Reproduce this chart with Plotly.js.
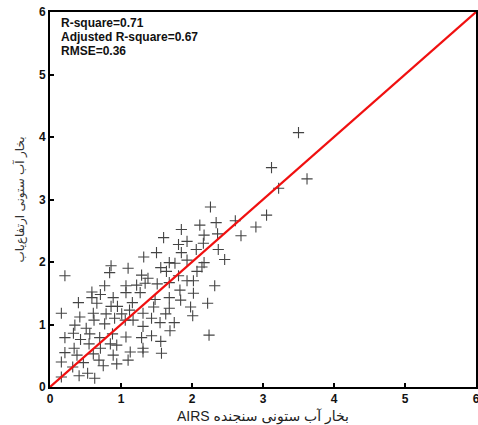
<!DOCTYPE html>
<html>
<head>
<meta charset="utf-8">
<script src="https://cdn.plot.ly/plotly-3.0.1.min.js"></script>
<style>
html,body{margin:0;padding:0;background:#fff;}
#chart{width:478px;height:425px;}
</style>
</head>
<body>
<div id="chart"></div>
<script>
// AIRS column water vapour (x) vs reference (y)
const airsX = [
0.21,0.86,0.84,1.10,0.77,1.07,0.59,0.71,1.07,0.59,0.40,0.66,0.89,0.86,0.95,0.16,0.42,0.61,0.62,0.79,
0.91,1.01,1.12,0.35,0.51,0.77,1.06,0.21,0.33,0.43,0.56,0.70,0.88,1.07,0.34,0.21,0.38,0.55,0.61,0.71,
0.85,0.89,1.13,1.31,0.16,0.32,0.47,0.69,0.75,0.94,1.10,0.41,0.53,0.63,0.16,0.94,1.57,
2.34,2.11,1.85,2.61,2.90,2.17,2.36,2.69,1.60,1.81,1.93,2.16,2.06,1.85,2.37,1.50,1.32,2.46,1.68,1.76,
1.93,2.17,1.56,1.64,2.14,2.07,1.29,1.38,1.81,1.93,2.02,1.22,1.34,1.51,1.68,1.83,2.02,2.32,1.27,1.48,
1.68,1.84,2.22,1.16,1.46,1.68,1.98,1.31,1.63,2.01,1.17,1.43,1.55,1.75,1.31,1.69,2.24,1.29,1.43,1.56,
1.31,
3.50,3.12,3.62,3.22,2.26,3.05
];
const refY = [
1.78,1.94,1.83,1.90,1.62,1.62,1.52,1.48,1.51,1.43,1.35,1.34,1.43,1.29,1.29,1.18,1.12,1.18,1.07,1.17,
1.10,1.17,1.23,0.99,0.94,1.01,1.07,0.79,0.86,0.76,0.85,0.79,0.85,0.80,0.62,0.55,0.51,0.69,0.53,0.62,
0.69,0.51,0.56,0.56,0.40,0.32,0.39,0.43,0.34,0.37,0.43,0.18,0.22,0.14,0.16,0.67,0.54,
2.63,2.59,2.52,2.66,2.56,2.43,2.45,2.42,2.39,2.28,2.33,2.30,2.20,2.15,2.20,2.15,2.08,2.04,1.99,1.98,
2.03,1.99,1.91,1.85,1.92,1.85,1.79,1.74,1.78,1.70,1.70,1.63,1.66,1.65,1.67,1.55,1.50,1.62,1.51,1.40,
1.43,1.39,1.34,1.35,1.28,1.26,1.28,1.18,1.17,1.14,1.07,1.10,1.03,1.03,0.97,0.90,0.83,0.79,0.82,0.73,
0.62,
4.07,3.51,3.33,3.18,2.88,2.75
];
const lineX = [0, 6];
const lineY = [0, 6];
const tickVals = [0, 1, 2, 3, 4, 5, 6];
const tickLabels = ['0', '1', '2', '3', '4', '5', '6'];
const statLines = ['R-square=0.71', 'Adjusted R-square=0.67', 'RMSE=0.36'];
const xTitle = 'AIRS بخار آب ستونی سنجنده';
const yTitle = 'بخار آب ستونی ارتفاع‌یاب';

const fontFam = 'Arial, "Liberation Sans", "DejaVu Sans", sans-serif';

const traces = [
  {
    x: airsX, y: refY, type: 'scatter', mode: 'markers',
    marker: {symbol: 'cross-thin', size: 8, color: '#444', line: {color: '#444', width: 1.1}},
    hoverinfo: 'skip', showlegend: false
  },
  {
    x: lineX, y: lineY, type: 'scatter', mode: 'lines',
    line: {color: '#f01010', width: 2.2}, hoverinfo: 'skip', showlegend: false
  }
];

const axisCommon = {
  range: [0, 6], tickmode: 'array', tickvals: tickVals,
  ticktext: tickLabels.map(t => '<b>' + t + '</b>'),
  ticks: 'inside', ticklen: 4, tickwidth: 2, tickcolor: '#000',
  showline: true, linewidth: 2, linecolor: '#000', mirror: true,
  showgrid: false, zeroline: false, automargin: false,
  ticklabeloverflow: 'allow',
  tickfont: {family: fontFam, size: 12, color: '#111'}
};

const layout = {
  width: 478, height: 425,
  margin: {l: 50, r: 2, t: 12, b: 38},
  paper_bgcolor: '#fff', plot_bgcolor: '#fff',
  showlegend: false,
  xaxis: Object.assign({}, axisCommon, {
    title: {text: xTitle, standoff: 14, font: {family: fontFam, size: 14, color: '#222'}}
  }),
  yaxis: Object.assign({}, axisCommon, {
    title: {text: yTitle, standoff: 12, font: {family: fontFam, size: 12, color: '#333'}}
  }),
  annotations: statLines.map((t, i) => ({
    xref: 'paper', yref: 'paper', x: 0.02, y: 0.971 - i * 0.038,
    xanchor: 'left', yanchor: 'middle', showarrow: false,
    text: '<b>' + t + '</b>', font: {family: fontFam, size: 12, color: '#111'}
  }))
};

Plotly.newPlot('chart', traces, layout, {displayModeBar: false, staticPlot: true});
</script>
</body>
</html>
